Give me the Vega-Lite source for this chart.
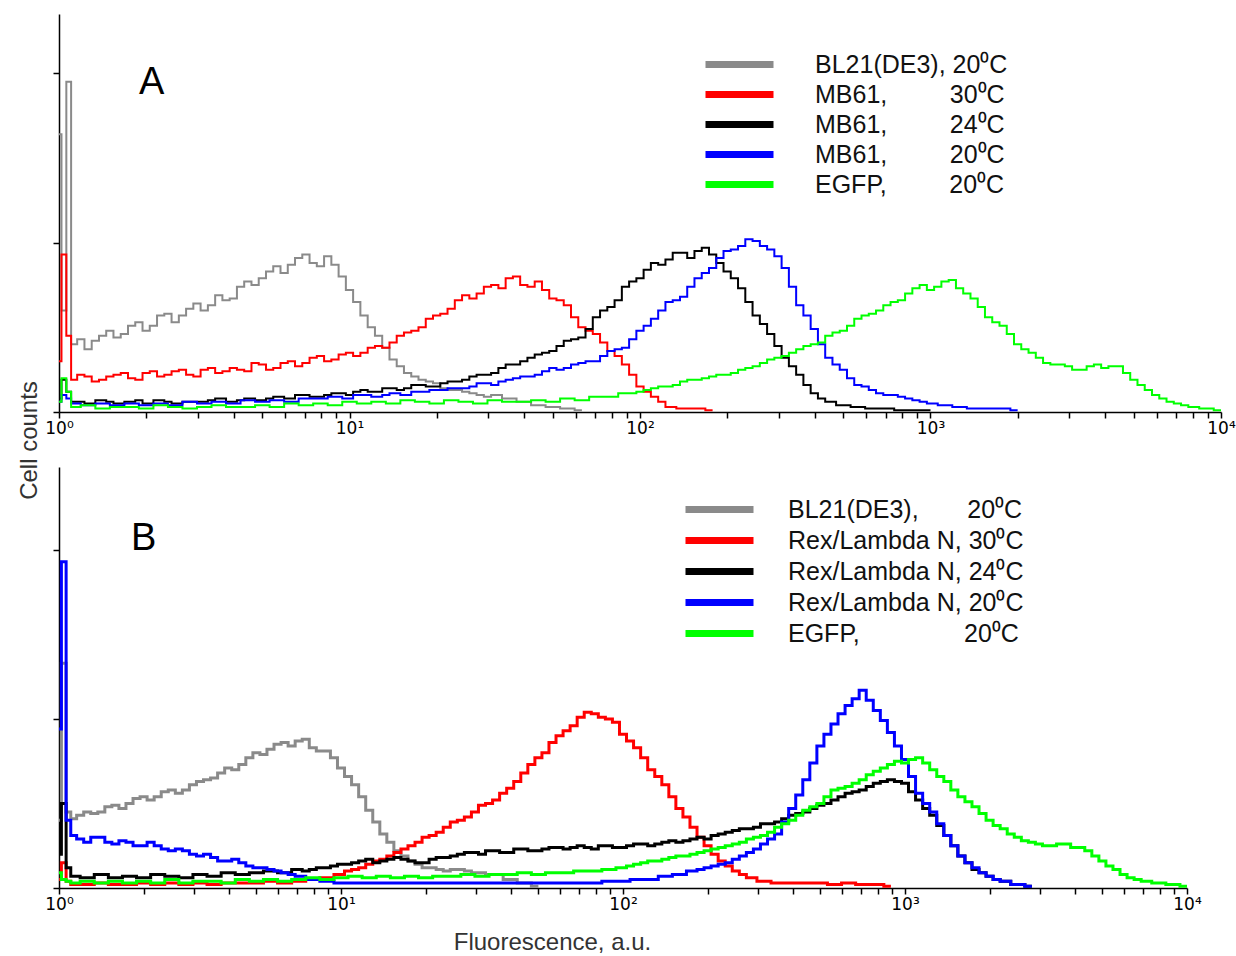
{
  "$schema": "https://vega.github.io/schema/vega-lite/v6.json",
  "padding": {"left": 17, "top": 14, "right": 0, "bottom": 0},
  "bounds": "flush",
  "spacing": 55,
  "resolve": {"scale": {"color": "independent"}, "legend": {"color": "independent"}},
  "config": {
    "font": "Liberation Sans",
    "view": {"stroke": null},
    "axis": {"grid": false, "domainColor": "#000", "domainWidth": 1.5, "tickColor": "#000", "tickWidth": 1.5, "tickSize": 6, "labelFont": "DejaVu Sans", "labelFontSize": 17, "labelFontWeight": "normal", "labelColor": "#000", "labelPadding": 2, "titleFont": "Liberation Sans", "titleFontSize": 24, "titleFontWeight": "normal", "titleColor": "#333"},
    "legend": {"labelFont": "Liberation Sans", "labelColor": "#111"}
  },
  "datasets": {
    "A": [
      {"x":1,"g":164,"r":30,"k":8,"b":6,"e":6},
      {"x":1.04,"g":60,"r":93,"k":19,"b":10,"e":20},
      {"x":1.08,"g":195,"r":45,"k":12,"b":8,"e":12},
      {"x":1.122,"g":40,"r":19,"k":6,"b":5,"e":3},
      {"x":1.189,"g":43,"r":22,"k":6},
      {"x":1.259,"g":37,"r":21,"k":5,"b":4,"e":4},
      {"x":1.334,"g":42,"r":18},
      {"x":1.413,"g":45,"r":19,"k":7,"b":5,"e":2},
      {"x":1.496,"g":48,"r":21,"k":6},
      {"x":1.585,"g":44,"r":22,"k":5,"b":4,"e":3},
      {"x":1.679,"g":46,"r":23},
      {"x":1.778,"g":51,"r":20,"k":6,"b":5,"e":3},
      {"x":1.884,"g":53,"r":19,"k":7},
      {"x":1.995,"g":48,"r":23,"k":5,"b":4,"e":2},
      {"x":2.113,"g":51,"r":24},
      {"x":2.239,"g":57,"r":21,"k":7,"b":5,"e":4},
      {"x":2.371,"g":58,"r":22,"k":6},
      {"x":2.512,"g":53,"r":24,"k":5,"b":4,"e":3},
      {"x":2.661,"g":57,"r":25},
      {"x":2.818,"g":61,"r":22,"k":6,"b":6,"e":2},
      {"x":2.985,"g":64,"r":21},
      {"x":3.162,"g":60,"r":25,"k":6,"b":5,"e":3},
      {"x":3.35,"g":63,"r":26,"k":7},
      {"x":3.548,"g":69,"r":23,"k":8,"b":6,"e":4},
      {"x":3.758,"g":66,"r":24},
      {"x":3.981,"g":67,"r":26,"k":6,"b":5,"e":3},
      {"x":4.217,"g":74,"r":25,"k":7},
      {"x":4.467,"g":77,"r":24,"k":8,"b":7,"e":3},
      {"x":4.732,"g":75,"r":29},
      {"x":5.012,"g":79,"r":28,"k":7,"b":6,"e":4},
      {"x":5.309,"g":83,"r":25,"k":8},
      {"x":5.623,"g":86,"r":26,"k":9,"b":7,"e":3},
      {"x":5.957,"g":82,"r":29},
      {"x":6.31,"g":87,"r":30,"k":8,"b":6,"e":5},
      {"x":6.683,"g":91,"r":27,"k":10},
      {"x":7.079,"g":93,"r":29,"k":10,"b":8,"e":4},
      {"x":7.499,"g":88,"r":32,"k":9},
      {"x":7.943,"g":86,"r":33,"k":9,"b":8,"e":5},
      {"x":8.414,"g":92,"r":30,"k":10},
      {"x":8.913,"g":87,"r":31,"k":11,"b":9,"e":4},
      {"x":9.441,"g":80,"r":34,"k":11},
      {"x":10,"g":72,"r":35,"k":10,"b":8,"e":6},
      {"x":10.59,"g":65,"r":33,"k":12,"b":10},
      {"x":11.22,"g":57,"r":35,"k":13,"b":10,"e":5},
      {"x":11.89,"g":50,"r":38,"k":12},
      {"x":12.59,"g":45,"r":39,"k":12,"b":9,"e":6},
      {"x":13.34,"g":38,"r":38,"k":14,"b":10},
      {"x":14.13,"g":31,"r":41,"k":14,"b":11,"e":5},
      {"x":14.96,"g":27,"r":45,"k":13},
      {"x":15.85,"g":23,"r":47,"k":14,"b":10,"e":7},
      {"x":16.79,"g":21,"r":48,"k":16,"b":12},
      {"x":17.78,"g":19,"r":50,"k":16,"b":12,"e":6},
      {"x":18.84,"g":18,"r":55,"k":15},
      {"x":19.95,"g":17,"r":57,"k":15,"b":13,"e":5},
      {"x":21.13,"g":14,"r":58,"k":17,"b":13},
      {"x":22.39,"g":13,"r":61,"k":18,"b":14,"e":7},
      {"x":23.71,"g":13,"r":66,"k":18},
      {"x":25.12,"g":12,"r":69,"k":19,"b":14,"e":6},
      {"x":26.61,"g":11,"r":67,"k":21,"b":15},
      {"x":28.18,"g":10,"r":70,"k":22,"b":17,"e":5},
      {"x":29.85,"g":9,"r":74,"k":22,"b":17},
      {"x":31.62,"g":10,"r":75,"k":23,"b":16,"e":7},
      {"x":33.5,"r":73,"k":26,"b":18},
      {"x":35.48,"g":8,"r":79,"k":28,"b":19,"e":6},
      {"x":37.58,"r":80,"k":28,"b":20},
      {"x":39.81,"g":6,"r":75,"k":30,"b":21,"e":6},
      {"x":42.17,"r":74,"k":32,"b":21},
      {"x":44.67,"g":4,"r":77,"k":34,"b":22,"e":7},
      {"x":47.32,"r":72,"k":35,"b":24},
      {"x":50.12,"g":3,"r":67,"k":36,"b":26,"e":6},
      {"x":53.09,"r":66,"k":39,"b":25},
      {"x":56.23,"g":2,"r":63,"k":42,"b":26,"e":8},
      {"x":59.57,"r":56,"k":43,"b":28},
      {"x":63.1,"g":1,"r":50,"k":44,"b":29,"e":7},
      {"x":66.83,"r":48,"k":49,"b":30},
      {"x":70.79,"r":46,"k":56,"b":30,"e":9},
      {"x":74.99,"r":41,"k":60,"b":33},
      {"x":79.43,"r":36,"k":62,"b":36,"e":9},
      {"x":84.14,"r":33,"k":66,"b":37},
      {"x":89.13,"r":28,"k":74,"b":38,"e":11},
      {"x":94.41,"r":22,"k":77,"b":43,"e":11},
      {"x":100,"r":15,"k":79,"b":48,"e":12},
      {"x":105.9,"r":12,"k":84,"b":51,"e":13},
      {"x":112.2,"r":9,"k":88,"b":55,"e":14},
      {"x":118.9,"r":6,"k":87,"b":60,"e":15},
      {"x":125.9,"r":3,"k":90,"b":65,"e":15},
      {"x":133.4,"k":94,"b":66,"e":16},
      {"x":141.3,"r":2,"k":94,"b":68,"e":18},
      {"x":149.6,"k":91,"b":74,"e":19},
      {"x":158.5,"r":2,"k":95,"b":79,"e":19},
      {"x":167.9,"k":97,"b":82,"e":20},
      {"x":177.8,"r":1,"k":93,"b":85,"e":21},
      {"x":188.4,"k":88,"b":91,"e":22},
      {"x":199.5,"k":83,"b":95,"e":22},
      {"x":211.3,"k":79,"b":96,"e":23},
      {"x":223.9,"k":73,"b":98,"e":25},
      {"x":237.1,"k":65,"b":102,"e":26},
      {"x":251.2,"k":57,"b":101,"e":27},
      {"x":266.1,"k":52,"b":98,"e":29},
      {"x":281.8,"k":46,"b":96,"e":31},
      {"x":298.5,"k":39,"b":92,"e":32},
      {"x":316.2,"k":32,"b":85,"e":33},
      {"x":335,"k":27,"b":74,"e":35},
      {"x":354.8,"k":22,"b":63,"e":37},
      {"x":375.8,"k":16,"b":57,"e":39},
      {"x":398.1,"k":11,"b":49,"e":40},
      {"x":421.7,"k":8,"b":40,"e":41},
      {"x":446.7,"k":6,"b":32,"e":45},
      {"x":473.2,"b":28,"e":47},
      {"x":501.2,"k":4,"b":25,"e":48},
      {"x":530.9,"b":20,"e":51},
      {"x":562.3,"k":3,"b":16,"e":55},
      {"x":595.7,"b":15,"e":57},
      {"x":631,"k":2,"b":13,"e":58},
      {"x":668.3,"b":11,"e":60},
      {"x":707.9,"k":2,"b":10,"e":63},
      {"x":749.9,"b":10,"e":65},
      {"x":794.3,"k":1,"b":9,"e":66},
      {"x":841.4,"b":8,"e":70},
      {"x":891.3,"k":1,"b":7,"e":73},
      {"x":944.1,"b":6,"e":75},
      {"x":1000,"k":1,"b":5,"e":72},
      {"x":1059,"e":74},
      {"x":1122,"b":4,"e":77},
      {"x":1189,"e":78},
      {"x":1259,"b":3,"e":73},
      {"x":1334,"e":70},
      {"x":1413,"b":2,"e":67},
      {"x":1496,"e":62},
      {"x":1585,"b":2,"e":56},
      {"x":1679,"e":53},
      {"x":1778,"b":2,"e":51},
      {"x":1884,"e":46},
      {"x":1995,"b":1,"e":40},
      {"x":2113,"e":37},
      {"x":2239,"e":35},
      {"x":2371,"e":32},
      {"x":2512,"e":29},
      {"x":2661,"e":28},
      {"x":2818,"e":28},
      {"x":2985,"e":27},
      {"x":3162,"e":25},
      {"x":3350,"e":25},
      {"x":3548,"e":27},
      {"x":3758,"e":28},
      {"x":3981,"e":26},
      {"x":4217,"e":27},
      {"x":4467,"e":27},
      {"x":4732,"e":23},
      {"x":5012,"e":19},
      {"x":5309,"e":16},
      {"x":5623,"e":13},
      {"x":5957,"e":10},
      {"x":6310,"e":8},
      {"x":6683,"e":6},
      {"x":7079,"e":5},
      {"x":7499,"e":4},
      {"x":7943,"e":3},
      {"x":8913,"e":2},
      {"x":10000,"e":1}
    ],
    "B": [
      {"x":1,"g":40,"r":5,"k":20,"b":94,"e":9},
      {"x":1.04,"g":133,"r":15,"k":50,"b":193,"e":5},
      {"x":1.08,"g":45,"r":4,"k":12,"b":40,"e":4},
      {"x":1.122,"g":41,"r":2,"k":7,"b":31,"e":3},
      {"x":1.189,"g":43,"b":29},
      {"x":1.259,"g":45,"r":2,"k":6,"b":27,"e":4},
      {"x":1.334,"g":44,"b":30},
      {"x":1.413,"g":45,"r":3,"k":8,"b":30,"e":3},
      {"x":1.496,"g":48,"b":27},
      {"x":1.585,"g":49,"r":2,"k":6,"b":26,"e":4},
      {"x":1.679,"g":47,"b":28},
      {"x":1.778,"g":50,"r":2,"k":7,"b":27,"e":3},
      {"x":1.884,"g":53,"b":25},
      {"x":1.995,"g":54,"r":3,"k":6,"b":25,"e":4},
      {"x":2.113,"g":52,"b":27},
      {"x":2.239,"g":54,"r":2,"k":8,"b":25,"e":3},
      {"x":2.371,"g":57,"b":23},
      {"x":2.512,"g":58,"r":3,"k":7,"b":22,"e":5},
      {"x":2.661,"g":56,"b":23},
      {"x":2.818,"g":58,"r":2,"k":6,"b":22,"e":3},
      {"x":2.985,"g":61,"b":20},
      {"x":3.162,"g":63,"r":3,"k":8,"b":19,"e":4},
      {"x":3.35,"g":64,"b":20},
      {"x":3.548,"g":65,"r":2,"k":7,"b":18,"e":4},
      {"x":3.758,"g":68,"b":16},
      {"x":3.981,"g":71,"r":3,"k":9,"b":16,"e":3},
      {"x":4.217,"g":70,"b":17},
      {"x":4.467,"g":73,"r":3,"k":8,"b":15,"e":5},
      {"x":4.732,"g":77,"b":13},
      {"x":5.012,"g":80,"r":3,"k":9,"b":12,"e":4},
      {"x":5.309,"g":79,"b":12},
      {"x":5.623,"g":82,"r":4,"k":10,"b":11,"e":5},
      {"x":5.957,"g":85,"b":10},
      {"x":6.31,"g":86,"r":3,"k":9,"b":9,"e":4},
      {"x":6.683,"g":84,"b":8},
      {"x":7.079,"g":87,"r":4,"k":11,"b":7,"e":5},
      {"x":7.499,"g":88,"k":10},
      {"x":7.943,"g":83,"r":5,"k":11,"b":5,"e":6},
      {"x":8.414,"g":81,"k":12},
      {"x":8.913,"g":81,"r":6,"k":12,"b":4,"e":5},
      {"x":9.441,"g":77,"k":13},
      {"x":10,"g":71,"r":8,"k":14,"b":3,"e":6},
      {"x":10.59,"g":66,"r":10,"k":14},
      {"x":11.22,"g":61,"r":11,"k":15,"b":3,"e":7},
      {"x":11.89,"g":54,"r":12,"k":16},
      {"x":12.59,"g":46,"r":14,"k":17,"b":3,"e":6},
      {"x":13.34,"g":39,"r":16,"k":15},
      {"x":14.13,"g":32,"r":17,"k":16,"b":3,"e":7},
      {"x":14.96,"g":27,"r":19,"k":17},
      {"x":15.85,"g":22,"r":21,"k":18,"b":3,"e":6},
      {"x":16.79,"g":19,"r":23,"k":17},
      {"x":17.78,"g":16,"r":25,"k":16,"b":3,"e":7},
      {"x":18.84,"g":14,"r":27,"k":15},
      {"x":19.95,"g":12,"r":30,"k":15,"b":3,"e":6},
      {"x":21.13,"g":12,"r":31,"k":17},
      {"x":22.39,"g":11,"r":33,"k":18,"b":3,"e":7},
      {"x":23.71,"g":10,"r":36,"k":18},
      {"x":25.12,"g":11,"r":39,"k":19,"b":3,"e":7},
      {"x":26.61,"g":11,"r":40,"k":20},
      {"x":28.18,"g":10,"r":42,"k":21,"b":3,"e":8},
      {"x":29.85,"g":9,"r":45,"k":21},
      {"x":31.62,"g":9,"r":49,"k":20,"b":3,"e":7},
      {"x":33.5,"g":8,"r":50,"k":22},
      {"x":35.48,"g":8,"r":52,"k":22,"b":3,"e":8},
      {"x":37.58,"r":56,"k":21},
      {"x":39.81,"g":5,"r":59,"k":21,"b":3,"e":8},
      {"x":42.17,"r":63,"k":23},
      {"x":44.67,"g":3,"r":68,"k":23,"b":3,"e":9},
      {"x":47.32,"r":73,"k":22},
      {"x":50.12,"g":1,"r":77,"k":22,"b":3,"e":8},
      {"x":53.09,"r":80,"k":23},
      {"x":56.23,"r":86,"k":24,"b":3,"e":9},
      {"x":59.57,"r":90,"k":24},
      {"x":63.1,"r":93,"k":23,"b":3,"e":9},
      {"x":66.83,"r":96,"k":24},
      {"x":70.79,"r":101,"k":25,"b":3,"e":10},
      {"x":74.99,"r":104,"k":24},
      {"x":79.43,"r":103,"k":23,"b":3,"e":10},
      {"x":84.14,"r":101,"k":25},
      {"x":89.13,"r":100,"k":25,"b":4,"e":11},
      {"x":94.41,"r":98,"k":24},
      {"x":100,"r":91,"k":24,"b":4,"e":12},
      {"x":105.9,"r":87,"k":25,"e":13},
      {"x":112.2,"r":83,"k":26,"b":5,"e":14},
      {"x":118.9,"r":77,"k":26,"e":15},
      {"x":125.9,"r":70,"k":25,"b":5,"e":16},
      {"x":133.4,"r":66,"k":26,"e":16},
      {"x":141.3,"r":61,"k":27,"b":7,"e":17},
      {"x":149.6,"r":54,"k":28,"e":18},
      {"x":158.5,"r":47,"k":27,"b":8,"e":19},
      {"x":167.9,"r":42,"k":28,"e":19},
      {"x":177.8,"r":36,"k":29,"b":10,"e":20},
      {"x":188.4,"r":30,"k":30,"b":11,"e":21},
      {"x":199.5,"r":25,"k":29,"b":12,"e":22},
      {"x":211.3,"r":20,"k":31,"b":13,"e":23},
      {"x":223.9,"r":16,"k":32,"b":14,"e":24},
      {"x":237.1,"r":13,"k":33,"b":15,"e":25},
      {"x":251.2,"r":10,"k":34,"b":17,"e":26},
      {"x":266.1,"r":8,"k":35,"b":19,"e":27},
      {"x":281.8,"r":6,"k":35,"b":21,"e":29},
      {"x":298.5,"k":36,"b":23,"e":30},
      {"x":316.2,"r":4,"k":38,"b":26,"e":31},
      {"x":335,"k":38,"b":29,"e":33},
      {"x":354.8,"r":3,"k":39,"b":32,"e":36},
      {"x":375.8,"k":41,"b":39,"e":38},
      {"x":398.1,"r":3,"k":43,"b":47,"e":40},
      {"x":421.7,"k":44,"b":55,"e":43},
      {"x":446.7,"r":3,"k":45,"b":64,"e":46},
      {"x":473.2,"k":47,"b":74,"e":48},
      {"x":501.2,"r":3,"k":49,"b":84,"e":50},
      {"x":530.9,"k":50,"b":91,"e":54},
      {"x":562.3,"r":2,"k":52,"b":97,"e":58},
      {"x":595.7,"k":54,"b":103,"e":59},
      {"x":631,"r":3,"k":56,"b":108,"e":60},
      {"x":668.3,"k":57,"b":112,"e":62},
      {"x":707.9,"r":2,"k":58,"b":117,"e":64},
      {"x":749.9,"k":60,"b":111,"e":67},
      {"x":794.3,"r":2,"k":62,"b":105,"e":69},
      {"x":841.4,"k":63,"b":99,"e":71},
      {"x":891.3,"r":1,"k":64,"b":92,"e":73},
      {"x":944.1,"k":63,"b":84,"e":75},
      {"x":1000,"k":62,"b":76,"e":74},
      {"x":1059,"k":57,"b":66,"e":76},
      {"x":1122,"k":52,"b":56,"e":77},
      {"x":1189,"k":47,"b":50,"e":74},
      {"x":1259,"k":43,"b":45,"e":70},
      {"x":1334,"k":37,"b":38,"e":66},
      {"x":1413,"k":31,"b":31,"e":63},
      {"x":1496,"k":25,"b":25,"e":58},
      {"x":1585,"k":19,"b":19,"e":54},
      {"x":1679,"k":15,"b":15,"e":51},
      {"x":1778,"k":11,"b":12,"e":48},
      {"x":1884,"k":9,"b":9,"e":44},
      {"x":1995,"k":7,"b":7,"e":40},
      {"x":2113,"k":5,"b":5,"e":37},
      {"x":2239,"k":4,"b":4,"e":35},
      {"x":2371,"e":32},
      {"x":2512,"k":2,"b":2,"e":30},
      {"x":2661,"e":28},
      {"x":2818,"k":1,"b":1,"e":27},
      {"x":2985,"e":26},
      {"x":3162,"e":25},
      {"x":3350,"e":25},
      {"x":3548,"e":26},
      {"x":3758,"e":26},
      {"x":3981,"e":24},
      {"x":4217,"e":24},
      {"x":4467,"e":22},
      {"x":4732,"e":19},
      {"x":5012,"e":16},
      {"x":5309,"e":13},
      {"x":5623,"e":11},
      {"x":5957,"e":8},
      {"x":6310,"e":6},
      {"x":6683,"e":5},
      {"x":7079,"e":4},
      {"x":7943,"e":3},
      {"x":8913,"e":2},
      {"x":10000,"e":1}
    ]
  },
  "vconcat": [
    {
      "width": 1162,
      "height": 398,
      "data": {"name": "A"},
      "transform": [{"fold": ["g", "r", "k", "b", "e"], "as": ["s", "y"]}],
      "title": {"text": "A", "anchor": "start", "frame": "group", "font": "Liberation Sans", "fontSize": 38, "fontWeight": "normal", "color": "#000", "baseline": "alphabetic", "offset": 0, "dx": 80, "dy": 118},
      "mark": {"type": "line", "interpolate": "step", "strokeWidth": 2, "invalid": "filter"},
      "encoding": {
        "x": {
          "field": "x", "type": "quantitative",
          "scale": {"type": "log", "domain": [1, 10000], "nice": false},
          "axis": {
            "title": null,
            "values": [1,2,3,4,5,6,7,8,9,10,20,30,40,50,60,70,80,90,100,200,300,400,500,600,700,800,900,1000,2000,3000,4000,5000,6000,7000,8000,9000,10000],
            "labelExpr": "datum.value == 1 ? '10⁰' : datum.value == 10 ? '10¹' : datum.value == 100 ? '10²' : datum.value == 1000 ? '10³' : datum.value == 10000 ? '10⁴' : ''",
            "labelOverlap": false,
            "labelFlush": false
          }
        },
        "y": {
          "field": "y", "type": "quantitative",
          "scale": {"domain": [0, 235], "nice": false},
          "axis": {"values": [0, 100, 200], "labels": false, "title": "Cell counts", "titleX": -30, "titleY": 426, "titleAlign": "center", "titleBaseline": "middle", "titleAngle": 270}
        },
        "color": {
          "field": "s", "type": "nominal",
          "scale": {"domain": ["g", "r", "k", "b", "e"], "range": ["#8a8a8a", "#ff0000", "#000000", "#0000ff", "#00ff00"]},
          "legend": {
            "orient": "none", "legendX": 646, "legendY": 38, "title": null, "padding": 0,
            "symbolType": "M-5,0H5", "symbolSize": 185, "symbolStrokeWidth": 7, "symbolOffset": 22,
            "labelOffset": 63, "rowPadding": 1, "labelFontSize": 25, "labelLimit": 0,
            "labelExpr": "datum.label == 'g' ? 'BL21(DE3), 20⁰C' : datum.label == 'r' ? 'MB61,\u00a0\u00a0\u00a0\u00a0\u00a0\u00a0\u00a0\u00a0\u00a030⁰C' : datum.label == 'k' ? 'MB61,\u00a0\u00a0\u00a0\u00a0\u00a0\u00a0\u00a0\u00a0\u00a024⁰C' : datum.label == 'b' ? 'MB61,\u00a0\u00a0\u00a0\u00a0\u00a0\u00a0\u00a0\u00a0\u00a020⁰C' : 'EGFP,\u00a0\u00a0\u00a0\u00a0\u00a0\u00a0\u00a0\u00a0\u00a020⁰C'"
          }
        }
      }
    },
    {
      "width": 1128,
      "height": 421,
      "data": {"name": "B"},
      "transform": [{"fold": ["g", "r", "k", "b", "e"], "as": ["s", "y"]}],
      "title": {"text": "B", "anchor": "start", "frame": "group", "font": "Liberation Sans", "fontSize": 38, "fontWeight": "normal", "color": "#000", "baseline": "alphabetic", "offset": 0, "dx": 72, "dy": 121},
      "mark": {"type": "line", "interpolate": "step", "strokeWidth": 3, "invalid": "filter"},
      "encoding": {
        "x": {
          "field": "x", "type": "quantitative",
          "scale": {"type": "log", "domain": [1, 10000], "nice": false},
          "axis": {
            "title": "Fluorescence, a.u.", "titleX": 493, "titleY": 42, "titleAlign": "center", "titleBaseline": "top",
            "values": [1,2,3,4,5,6,7,8,9,10,20,30,40,50,60,70,80,90,100,200,300,400,500,600,700,800,900,1000,2000,3000,4000,5000,6000,7000,8000,9000,10000],
            "labelExpr": "datum.value == 1 ? '10⁰' : datum.value == 10 ? '10¹' : datum.value == 100 ? '10²' : datum.value == 1000 ? '10³' : datum.value == 10000 ? '10⁴' : ''",
            "labelOverlap": false,
            "labelFlush": false
          }
        },
        "y": {
          "field": "y", "type": "quantitative",
          "scale": {"domain": [0, 249], "nice": false},
          "axis": {"values": [0, 100, 200], "labels": false, "title": null}
        },
        "color": {
          "field": "s", "type": "nominal",
          "scale": {"domain": ["g", "r", "k", "b", "e"], "range": ["#8a8a8a", "#ff0000", "#000000", "#0000ff", "#00ff00"]},
          "legend": {
            "orient": "none", "legendX": 626, "legendY": 30, "title": null, "padding": 0,
            "symbolType": "M-5,0H5", "symbolSize": 185, "symbolStrokeWidth": 7, "symbolOffset": 22,
            "labelOffset": 56, "rowPadding": 2, "labelFontSize": 25, "labelLimit": 0,
            "labelExpr": "datum.label == 'g' ? 'BL21(DE3),\u00a0\u00a0\u00a0\u00a0\u00a0\u00a0\u00a020⁰C' : datum.label == 'r' ? 'Rex/Lambda N, 30⁰C' : datum.label == 'k' ? 'Rex/Lambda N, 24⁰C' : datum.label == 'b' ? 'Rex/Lambda N, 20⁰C' : 'EGFP,\u00a0\u00a0\u00a0\u00a0\u00a0\u00a0\u00a0\u00a0\u00a0\u00a0\u00a0\u00a0\u00a0\u00a0\u00a020⁰C'"
          }
        }
      }
    }
  ]
}
